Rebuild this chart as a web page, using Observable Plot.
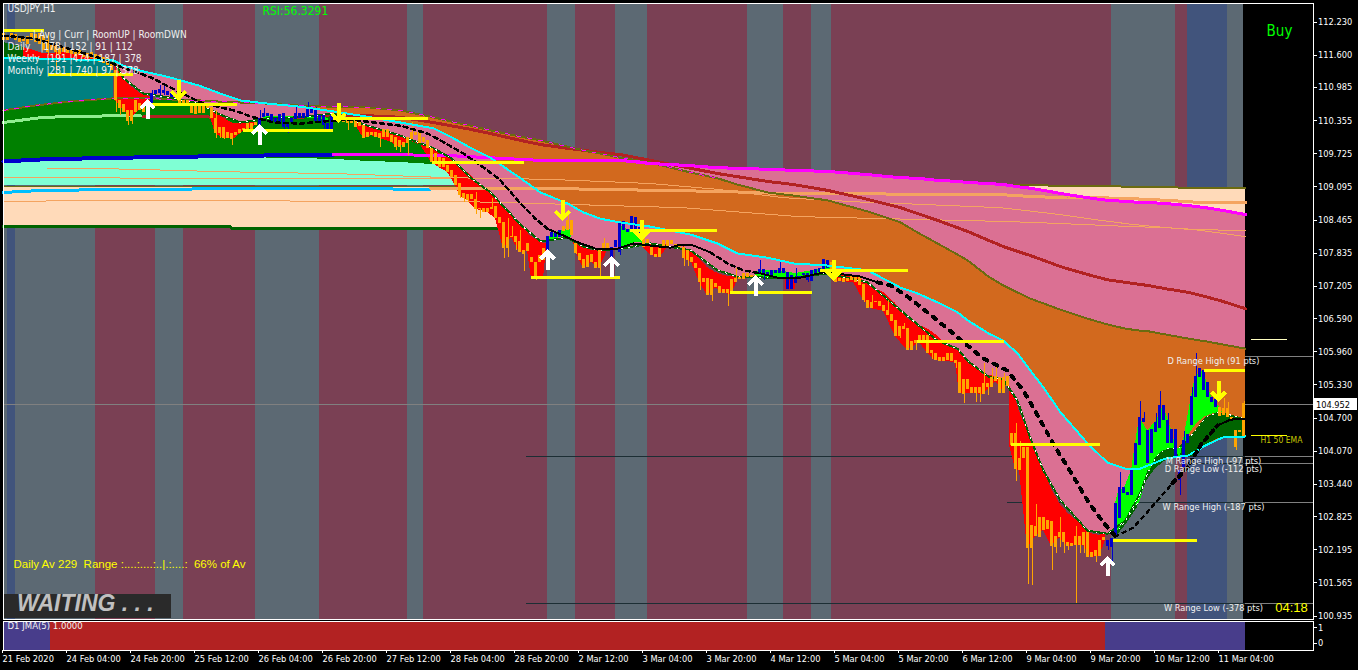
<!DOCTYPE html>
<html><head><meta charset="utf-8">
<script src="https://cdn.jsdelivr.net/npm/d3@7"></script>
<script src="https://cdn.jsdelivr.net/npm/@observablehq/plot@0.6"></script>
<style>html,body{margin:0;padding:0;background:#000;overflow:hidden}#c{position:relative;width:1358px;height:670px}#c svg{position:absolute;left:0;max-width:none}</style>
</head><body><div id="c"></div>
<script>
// ---- axes
const priceTicks=[112.23,111.6,110.985,110.355,109.725,109.095,108.465,107.835,107.205,106.59,105.96,105.33,104.7,104.07,103.44,102.825,102.195,101.565,100.935];
const timeTickBars=[0,16,32,48,64,80,96,112,128,144,160,176,192,208,224,240,256,272,288,304];
const timeTickLabels=["21 Feb 2020","24 Feb 04:00","24 Feb 20:00","25 Feb 12:00","26 Feb 04:00","26 Feb 20:00","27 Feb 12:00","28 Feb 04:00","28 Feb 20:00","2 Mar 12:00","3 Mar 04:00","3 Mar 20:00","4 Mar 12:00","5 Mar 04:00","5 Mar 20:00","6 Mar 12:00","9 Mar 04:00","9 Mar 20:00","10 Mar 12:00","11 Mar 04:00"];
// ---- session shading
const sessionEdges=[0,1,3,23,38,45,63,79,101,105,136,143,153,161,186,195,202,207,277,293,296,306,310];
const sessionKinds=["s","b","s","m","s","m","s","m","s","m","s","m","s","m","s","m","s","m","s","m","b","s"];
const sessionColors={s:"#5c6973",b:"#41547c",m:"#7a4054"};
// ---- cloud curves on a shared set of bars
const cloudBars=[0,7.5,16.75,27.5,30,35,41,49,53.5,59.25,66,74.25,82.5,91,99.25,107.5,111.75,116.75,121.75,129.25,134.25,141,145,149.25,154.25,161.75,171.75,178.5,183.5,191,197.5,206,216,224.25,228.5,233.5,238.5,241,246.25,250,253.5,256.75,260,264.25,271,276,280.5,284.25,286.25,290.5,296.25,300.5,304.75,310.5];
const cyanBand=[111.54,111.54,111.52,111.50,111.40,111.29,111.19,111.02,110.89,110.74,110.68,110.62,110.53,110.43,110.32,110.21,110.05,109.84,109.65,109.26,108.99,108.78,108.61,108.49,108.42,108.34,108.19,108.02,107.83,107.75,107.64,107.60,107.51,107.18,107.07,106.90,106.71,106.56,106.31,106.17,105.93,105.60,105.28,104.81,104.22,103.85,103.74,103.74,103.80,103.93,103.99,104.18,104.33,104.35];
const lowerBand=[null,null,null,111.50,111.16,110.87,110.80,110.68,110.49,110.32,110.40,110.42,110.49,110.26,110.07,109.83,109.65,109.27,108.99,108.38,108.06,108.13,107.96,107.89,107.92,108.02,107.89,107.51,107.39,107.37,107.37,107.45,107.28,106.75,106.48,106.17,106.02,105.79,105.49,105.43,105.03,104.31,103.70,103.13,102.56,102.50,102.75,103.28,103.70,null,null,null,null,null];
const oliveBand=[110.55,110.64,110.72,110.78,110.78,110.78,110.76,110.74,110.72,110.70,110.68,110.64,110.62,110.61,110.55,110.42,110.34,110.26,110.17,110.05,109.98,109.86,109.79,109.73,109.65,109.56,109.37,109.26,109.14,108.99,108.93,108.84,108.63,108.42,108.23,108.02,107.81,107.70,107.39,107.22,107.09,106.97,106.88,106.76,106.59,106.48,106.40,106.36,106.35,106.29,106.21,106.16,106.10,106.02];
const magentaBand=[null,null,null,null,null,null,null,null,null,null,null,null,109.71,109.71,109.71,109.69,109.69,109.67,109.65,109.62,109.60,109.60,109.60,109.60,109.60,109.54,109.50,109.46,109.45,109.43,109.41,109.39,109.33,109.27,109.26,109.22,109.20,109.18,109.16,109.14,109.10,109.07,109.03,108.97,108.89,108.84,108.82,108.80,108.80,108.78,108.74,108.70,108.65,108.57];
const brickBand=[null,null,null,null,null,110.43,110.43,110.43,110.42,110.42,110.42,110.42,110.47,110.45,110.42,110.32,110.26,110.19,110.11,109.98,109.90,109.83,109.79,109.75,109.71,109.60,109.45,109.35,109.29,109.20,109.14,109.03,108.86,108.70,108.59,108.46,108.32,108.25,108.08,107.96,107.87,107.79,107.70,107.58,107.43,107.33,107.28,107.24,107.22,107.16,107.09,107.01,106.92,106.78];
// ---- slow black average
const blackBars=[0,7.5,16,24.25,28.5,36.75,44.25,49.25,57.5,62.5,67.5,74.25,80,86.75,92.5,99.25,106,109.25,115,119,124,129,133,136,140,144.25,148.5,153.5,157.5,161.75,166.75,169.25,172.5,176.75,181,185,189.25,193.5,199.25,205,210,214.25,218.5,221.75,226,231,236,240,245,251,255,259,263,267,271,275,278,282.5,286.75,292.25,296,299.25,303.5,306.75,310.5];
const blackPrice=[111.97,111.92,111.73,111.54,111.40,111.18,110.89,110.70,110.55,110.42,110.32,110.30,110.34,110.38,110.32,110.26,110.11,109.98,109.73,109.52,109.24,108.80,108.49,108.30,108.17,108.02,107.91,107.92,108.02,107.98,107.94,108.00,107.98,107.85,107.64,107.51,107.45,107.37,107.37,107.47,107.43,107.39,107.28,107.22,107.01,106.71,106.40,106.14,105.83,105.60,105.22,104.69,104.14,103.65,103.13,102.71,102.45,102.62,102.98,103.46,103.76,104.18,104.56,104.67,104.69];
// ---- long-period stack on the left
const aquaBars=[0,10,28.5,62.5,82.5,91,99.25,107.5,111.75,116.75];
const aquaTop=[109.54,109.58,109.62,109.65,109.62,109.58,109.56,109.52,109.48,109.41];
const aquaBottom=109.12;
const greenFloor=109.37;
const blueLineBars=[0,10,28.5,62.5,82.5];
const blueLinePrice=[109.58,109.62,109.65,109.69,109.71];
const peachBars=[[0,56.75,57.25,125],[160,249,262.5,282.5,303.5,310.5]];
const peachTop=[[109.10,109.10,109.10,109.10],[109.14,109.14,109.12,109.10,109.07,109.07]];
const peachBottom=[[108.34,108.34,108.30,108.30],[108.55,108.55,108.55,108.55,108.55,108.55]];
const skyBars=[0,10,36.75,73.5,106.75];
const skyPrice=[108.99,109.03,109.05,109.07,109.05];
const paleGreenBars=[0,10,28.5,34.25];
const paleGreenPrice=[110.32,110.42,110.45,110.45];
const sandThinA=[[11,20,32.5,52.5,64.25,82.5,111.75,136,149.25,161.75,178.5,195,216,224.25,249.25,257.5,266,274.25,282.5,291,299.25,310.5],[109.45,109.45,109.43,109.39,109.37,109.35,109.27,109.24,109.20,109.16,109.05,108.89,108.80,108.78,108.70,108.63,108.55,108.46,108.38,108.32,108.27,108.15]];
const sandThinB=[[0,111.75],[109.27,109.25]];
const sandThinC=[[0,28.5,96.75,111.75,124.25,170,199,249.25,257.5,270,282.5,291,299.25,310.5],[108.82,108.84,108.82,108.82,108.80,108.70,108.53,108.44,108.42,108.38,108.34,108.32,108.28,108.27]];
const sandThick=[[106.75,133,179,195,249.25,257.5,266,274.25,282.5,291,299.25,310.5],[109.07,109.07,109.01,108.97,108.95,108.91,108.89,108.89,108.87,108.84,108.80,108.80]];
// ---- red fills between band and price
const redBars=[[5,10,15,20,25,27.5],[28,30,32,34.25,36.75],[51.75,53,55,57.5,60,63],[87.5,90,92,94,97,99,102,104,107,109,111,113,114,116,118,121,123,125,127,129,131,132,135,135.75],[142.5,144,145,147,149,151,152],[160,162,164,166],[170,172,174,176,178,180,182,183.5],[195.5,198],[207.5,212.5,215,217,220,223,226,229,231,233,236,238,239,242,245,248,250.5],[251.5,253,254,256,258,260,262,264,266,268,270,272,274,275.5],[306.5,308,309,310,310.5]];
const redUpper=[[111.75,111.63,111.65,111.59,111.50,111.50],[111.40,111.16,111.00,110.87,110.80],[110.59,110.51,110.40,110.30,110.30,110.32],[110.40,110.30,110.21,110.17,110.11,110.07,109.96,109.90,109.83,109.73,109.67,109.58,109.50,109.37,109.22,109.03,108.89,108.70,108.55,108.44,108.23,108.15,108.02,108.02],[108.06,107.98,107.94,107.89,107.89,107.89,107.91],[108.02,108.02,108.00,108.00],[107.96,107.85,107.73,107.56,107.47,107.41,107.39,107.37],[107.37,107.37],[107.43,107.41,107.32,107.18,107.09,106.88,106.59,106.46,106.40,106.29,106.08,106.02,105.95,105.72,105.53,105.49,105.43],[105.32,105.07,104.82,104.46,104.05,103.70,103.36,103.08,102.90,102.77,102.66,102.50,102.47,102.50],[104.75,104.71,104.71,104.69,104.69]];
const redLower=[[111.54,111.54,111.52,111.52,111.50,111.50],[110.74,110.55,110.40,110.59,110.68],[110.40,110.11,110.02,110.00,110.15,110.26],[110.34,110.02,110.07,110.02,109.94,109.84,110.00,109.92,109.56,109.46,109.37,109.12,108.93,108.84,108.67,108.61,108.49,107.92,108.13,107.85,107.87,107.35,107.35,107.92],[108.02,107.70,107.54,107.66,107.54,107.89,107.91],[107.94,107.79,107.75,107.94],[107.73,107.66,107.28,107.03,107.18,107.07,107.05,107.32],[107.14,107.14],[107.30,107.28,106.94,106.78,106.73,106.25,105.98,106.14,105.93,105.79,105.78,105.74,105.17,105.17,105.15,105.39,105.17],[104.18,103.72,103.70,102.22,102.45,102.56,102.26,102.43,102.26,102.28,102.28,102.05,102.07,102.37],[104.41,104.30,104.40,104.33,104.33]];
// ---- lime fills
const limeBars=[[65,72,78,81.25],[136,138,140,142],[154,156,158,160.5],[188,193,198,203,206.75],[277.5,278,279,280,282,283,284,286,288,290,292,294,295,297,298,300,302,304,304.75]];
const limeUpper=[[110.43,110.43,110.43,110.40],[108.13,108.23,108.27,108.30],[108.36,108.29,108.29,108.11],[107.49,107.51,107.45,107.51,107.60],[102.43,103.08,103.38,103.32,103.70,104.22,104.71,104.46,104.62,104.94,104.48,103.89,104.27,105.11,105.49,105.60,105.09,104.90,104.81]];
const limeLower=[[110.40,110.40,110.40,110.36],[108.04,108.11,108.15,108.13],[107.91,107.98,108.04,108.02],[107.39,107.37,107.37,107.39,107.45],[102.43,102.50,102.60,102.68,102.92,103.04,103.08,103.57,103.95,104.08,104.12,104.12,104.16,104.46,104.56,104.71,104.77,104.81,104.81]];
// ---- dark green fills
const forestBars=[[0,5],[278,280.5,283.5,285.5,288,290.5,293.75,298,300.5,303.75,307.25,310.5]];
const forestUpper=[[111.84,111.75],[102.50,102.75,103.08,103.57,103.95,104.12,104.12,104.46,104.71,104.81,104.75,104.69]];
const forestLower=[[111.54,111.54],[102.43,102.66,103.00,103.47,103.74,103.89,103.95,103.97,104.18,104.31,104.35,104.35]];
// ---- candles, one entry per hourly bar
const bodyUpper=[112.01,111.97,112.01,111.99,111.96,111.94,111.96,112.01,111.99,112.01,
111.97,111.88,111.78,111.78,111.73,111.75,111.73,111.69,111.67,111.69,
111.65,111.63,111.65,111.61,111.59,111.56,111.54,111.46,
111.31,110.74,110.66,110.55,110.55,110.74,110.68,110.64,110.74,
110.87,110.93,110.95,110.93,110.91,110.89,110.85,
110.78,110.74,110.74,110.64,110.62,110.68,110.64,110.64,110.60,110.40,110.23,110.23,110.13,110.11,110.13,110.19,110.21,110.30,110.30,110.32,
110.40,110.49,110.49,110.47,110.40,110.47,110.49,110.32,110.40,110.49,110.49,110.49,110.59,110.59,110.59,110.45,110.45,110.30,110.45,110.43,
110.40,110.38,110.36,110.36,110.36,110.32,110.26,110.13,110.13,110.13,110.11,110.19,110.19,110.07,110.03,109.98,109.94,110.03,110.13,110.13,110.13,110.03,109.98,
109.83,109.73,109.65,109.64,109.50,109.41,109.31,109.16,108.97,108.95,108.95,108.86,108.68,108.68,108.68,108.70,108.72,108.51,108.42,108.13,108.15,108.15,108.06,107.89,108.02,107.75,107.66,107.79,107.92,
108.15,108.23,108.23,108.27,
108.34,108.46,108.46,108.02,107.83,107.71,107.79,107.81,107.66,107.91,108.02,108.02,
107.94,108.08,108.42,108.44,108.29,108.53,108.51,108.32,
108.11,108.10,107.94,107.81,107.92,108.08,108.08,108.08,108.00,107.98,107.94,107.89,107.75,107.64,107.54,107.35,107.35,107.33,107.26,107.20,107.14,107.14,107.33,107.35,107.37,107.45,107.45,107.41,107.41,
107.52,107.52,107.47,107.51,107.51,107.54,107.54,107.47,107.41,107.35,107.39,107.45,107.45,107.51,107.52,107.54,107.71,107.70,
107.66,107.41,107.35,107.35,107.35,107.39,107.39,107.37,
107.24,106.94,106.90,106.92,106.92,106.84,106.75,106.67,106.56,106.44,106.44,106.40,106.16,106.17,106.27,106.27,106.27,105.98,105.93,105.85,105.85,105.93,105.93,105.79,105.76,105.43,105.43,105.28,105.28,105.28,105.36,105.36,105.47,105.49,105.47,105.47,105.49,
104.41,104.41,103.93,104.14,104.14,102.66,102.64,102.81,102.81,102.75,102.73,102.45,102.52,102.52,102.33,102.31,102.45,102.45,102.52,102.52,102.14,102.18,102.37,102.43,
102.37,102.41,103.08,103.38,103.38,103.28,103.70,104.22,104.71,104.69,104.46,104.48,104.62,104.94,104.94,104.65,104.48,104.48,103.70,104.27,104.39,105.11,105.49,105.64,105.60,105.38,105.09,105.05,
104.90,104.88,104.88,104.71,104.46,104.46,104.98];
const bodyLower=[111.88,111.88,111.92,111.88,111.84,111.86,111.80,111.88,111.84,111.80,
111.69,111.65,111.69,111.65,111.61,111.65,111.63,111.61,111.57,111.59,
111.56,111.54,111.54,111.50,111.46,111.44,111.40,111.31,
110.74,110.59,110.51,110.34,110.34,110.51,110.55,110.51,110.62,
110.64,110.85,110.87,110.87,110.83,110.80,110.78,
110.68,110.64,110.64,110.49,110.47,110.49,110.49,110.59,110.40,110.11,110.11,110.02,110.02,110.00,110.07,110.11,110.17,110.19,110.19,110.26,
110.26,110.42,110.43,110.32,110.32,110.32,110.23,110.23,110.32,110.38,110.40,110.40,110.42,110.49,110.34,110.34,110.26,110.19,110.19,110.36,
110.34,110.32,110.30,110.30,110.23,110.24,110.02,110.03,110.07,110.03,110.02,110.03,110.03,109.94,109.84,109.84,109.84,109.92,110.00,110.07,109.92,109.94,109.83,
109.56,109.56,109.46,109.46,109.37,109.27,109.12,108.93,108.87,108.84,108.86,108.67,108.67,108.61,108.61,108.67,108.49,108.40,107.92,107.92,108.13,108.04,107.85,107.81,107.87,107.66,107.35,107.66,107.70,
107.89,108.13,108.13,108.13,
108.25,108.27,108.17,107.83,107.70,107.54,107.56,107.66,107.54,107.54,107.92,107.89,
107.75,107.94,107.85,108.27,108.23,108.23,108.27,108.13,
107.94,108.02,107.79,107.75,107.75,107.94,107.96,108.00,107.94,107.94,107.73,107.70,107.66,107.54,107.28,107.28,107.03,107.03,107.18,107.07,107.07,107.07,107.05,107.28,107.33,107.33,107.37,107.37,107.33,
107.43,107.43,107.43,107.41,107.45,107.45,107.45,107.14,107.14,107.26,107.33,107.41,107.32,107.30,107.45,107.47,107.52,107.54,
107.51,107.28,107.30,107.28,107.30,107.32,107.28,107.22,
106.94,106.78,106.78,106.90,106.82,106.73,106.65,106.54,106.25,106.25,106.38,105.98,105.98,106.12,106.14,106.16,105.93,105.93,105.79,105.78,105.78,105.79,105.78,105.74,105.17,105.15,105.24,105.17,105.17,105.17,105.15,105.28,105.28,105.39,105.17,105.17,105.30,
104.18,103.72,103.70,103.93,102.22,102.22,102.45,102.43,102.56,102.58,102.26,102.24,102.43,102.33,102.26,102.26,102.28,102.28,102.28,102.05,102.05,102.07,102.07,102.37,
102.26,102.24,102.47,102.79,103.27,103.23,103.23,103.80,104.18,104.62,103.84,104.03,104.43,104.50,104.65,104.22,104.22,103.95,103.51,103.76,104.22,104.56,105.09,105.47,105.22,105.09,105.00,104.90,
104.73,104.75,104.71,104.67,104.14,104.42,104.33];
const blueCandleRuns=[[37,43],[64,83],[136,139],[152,159],[189,206],[276,303]];
const wickBars=[11,13,28,29,31,32,37,39,40,53,54,55,57,64,65,70,71,73,76,78,80,81,86,94,98,99,101,102,114,115,116,118,119,122,125,126,127,128,129,130,133,136,141,143,149,150,154,160,170,171,174,177,181,183,189,190,194,198,201,215,217,221,224,225,228,232,238,240,243,244,245,246,247,248,250,253,254,256,257,258,262,263,264,265,266,268,269,270,273,276,277,279,284,285,288,289,291,294,295,297,298,305,306,308,310];
const wickHigh=[112.03,111.84,111.31,110.74,110.55,110.55,110.93,111.02,111.02,110.55,110.23,110.23,110.11,110.55,110.59,110.49,110.32,110.61,110.70,110.61,110.45,110.30,110.36,110.11,110.03,109.98,110.03,110.32,109.16,108.97,108.95,108.99,108.68,108.87,108.42,108.49,108.34,108.15,108.27,107.89,107.66,108.15,108.61,108.02,107.91,108.11,108.42,108.17,107.94,107.89,107.54,107.33,107.14,107.54,107.70,107.52,107.66,107.54,107.45,107.24,107.03,106.94,106.44,106.50,106.17,105.98,105.79,105.43,105.28,105.28,105.74,105.36,105.64,105.74,105.55,104.60,104.25,104.14,102.66,103.06,102.73,102.45,102.81,102.52,102.33,102.64,102.45,102.52,102.18,102.37,102.41,103.66,105.01,104.81,104.79,105.20,104.79,103.70,104.45,105.28,105.93,105.07,104.99,104.46,105.01];
const wickLow=[111.59,111.31,110.51,110.45,110.26,110.28,110.59,110.81,110.83,110.02,110.02,110.00,109.88,110.17,110.42,110.19,110.11,110.38,110.42,110.34,110.17,110.17,110.17,109.84,109.79,109.75,109.69,110.00,108.87,108.80,108.80,108.57,108.49,108.67,107.73,107.75,108.13,107.89,107.85,107.49,107.32,107.83,108.27,107.81,107.37,107.92,107.79,107.94,107.58,107.58,107.13,106.92,106.82,107.28,107.43,107.32,107.45,107.26,107.28,106.90,106.78,106.65,106.21,106.38,105.98,105.81,105.64,104.98,104.99,104.99,105.15,105.13,105.28,105.39,105.17,103.49,103.70,101.54,101.52,102.45,101.80,102.12,102.24,102.12,102.18,101.17,102.12,102.12,101.95,102.18,101.90,102.79,104.18,104.62,104.43,104.50,104.22,103.23,103.76,104.56,105.09,104.75,104.71,104.08,104.33];
// ---- yellow range levels
const levelStart=[0,11.25,37.25,60,82.5,107.25,132,156.75,181.75,204.25,228.5,252,277.5,300.25];
const levelEnd=[10.25,32.5,58.5,82.5,106.25,130.25,154.25,178.5,202.25,226.25,250.25,274.25,298.5,310.5];
const levelPrice=[112.07,111.23,110.66,110.17,110.40,109.56,107.37,108.27,107.09,107.51,106.16,104.20,102.37,105.60];
// ---- signal arrows
const upBars=[36,64,136,152,188,276];
const upPrice=[110.38,109.90,107.51,107.39,107.03,101.69];
const downBars=[43.75,83.75,139.75,159.5,207.5,303.75];
const downPrice=[111.12,110.70,108.84,108.46,107.71,105.40];
// ---- range lines and labels
const currentPrice=104.952;
const rangeStart=[311,130.75,294.25,251,130.75];
const rangePrice=[105.87,103.97,103.84,103.09,101.17];
const rangeText=["D Range High (91 pts)","M Range High (-97 pts)","D Range Low (-112 pts)","W Range High (-187 pts)","W Range Low (-378 pts)"];
const rangeTextPrice=[105.78,103.89,103.74,103.00,101.08];
// ---- lower window
const jmaEdges=[0,11.75,275.5,310.5];
const jmaColors=["#483d8b","#b22222","#483d8b"];

const cloud=cloudBars.map((bar,i)=>({bar,cyan:cyanBand[i],lower:lowerBand[i],olive:oliveBand[i],mag:magentaBand[i],brick:brickBand[i]}));
const xy=(b,p)=>b.map((bar,i)=>({bar,price:p[i]}));
const runs=(b,u,l)=>b.flatMap((r,k)=>r.map((bar,i)=>({bar,run:k,upper:u[k][i],lower:l[k][i]})));
const sessions=sessionKinds.map((k,i)=>({a:sessionEdges[i],b:sessionEdges[i+1],fill:sessionColors[k]}));
const candles=bodyUpper.map((upper,i)=>({bar:i,upper,lower:bodyLower[i],color:blueCandleRuns.some(r=>i>=r[0]&&i<=r[1])?"#0000cd":"#ffa500"}));
const colorOf=b=>candles[b]?candles[b].color:"#ffa500";
const wicks=wickBars.map((bar,i)=>({bar,hi:wickHigh[i],lo:wickLow[i],color:colorOf(bar)}));
const levels=levelPrice.map((price,i)=>({a:levelStart[i],b:levelEnd[i],price}));
const ranges=rangePrice.map((price,i)=>({a:rangeStart[i],price}));
const aquaRows=aquaBars.map((bar,i)=>({bar,top:aquaTop[i],bottom:aquaBottom}));
const peach=runs(peachBars,peachTop,peachBottom);
const blackRows=xy(blackBars,blackPrice);
const TAHOMA='"DejaVu Sans Condensed","DejaVu Sans",sans-serif';
const AXIS_SIZE=9.2;
const SCALE_END=327.5, FRAME_R=310.5;
const chevron={draw(ctx,l){ctx.moveTo(0,0);ctx.lineTo(0,-l);ctx.moveTo(-7,7-l);ctx.lineTo(0,-l);ctx.lineTo(7,7-l);}};
const sandLine=(s,w)=>Plot.line(xy(s[0],s[1]),{x:"bar",y:"price",stroke:"#f4a460",strokeWidth:w});
const fixedText=(t,dx,dy,o={})=>Plot.text([t],{frameAnchor:"top-left",dx,dy,fill:"#f0f0f0",fontSize:10,...o});
const blackPart=(f,w,dash)=>Plot.line(blackRows,{filter:f,x:"bar",y:"price",stroke:"#000",strokeWidth:w,strokeDasharray:dash});

const main=Plot.plot({
  width:1358,height:626,marginLeft:2.5,marginRight:45.5,marginTop:2.5,marginBottom:7.5,
  x:{domain:[0,SCALE_END],range:[3,1313],axis:null},
  y:{domain:[100.889,112.583],range:[618,3]},
  color:{type:"identity"},
  style:{background:"transparent",fontFamily:TAHOMA,fontSize:"10px",shapeRendering:"crispEdges"},
  marks:[
    Plot.rect(sessions,{x1:"a",x2:"b",fill:"fill"}),
    Plot.ruleY([currentPrice],{x1:0,x2:SCALE_END,stroke:"#808080",strokeWidth:1}),
    Plot.ruleY(ranges,{x1:"a",x2:SCALE_END,y:"price",stroke:"#1c2e34",strokeWidth:1}),
    // long period stack
    Plot.areaY(peach,{x:"bar",y1:"upper",y2:"lower",z:"run",fill:"#ffdab9"}),
    Plot.areaY(cloud,{filter:d=>d.bar<=111.75,x:"bar",y1:"olive",y2:()=>greenFloor,fill:"#008000"}),
    Plot.areaY(aquaRows,{x:"bar",y1:"top",y2:"bottom",fill:"#7fffd4"}),
    Plot.areaY(cloud,{filter:d=>d.bar<=27.5,x:"bar",y1:"cyan",y2:"olive",fill:"#008080"}),
    Plot.line(xy(blueLineBars,blueLinePrice),{x:"bar",y:"price",stroke:"#0000cd",strokeWidth:4}),
    Plot.line(xy(skyBars,skyPrice),{x:"bar",y:"price",stroke:"#00bfff",strokeWidth:3}),
    Plot.line(xy(paleGreenBars,paleGreenPrice),{x:"bar",y:"price",stroke:"#90ee90",strokeWidth:3}),
    Plot.line(peach.filter(d=>d.run==0),{x:"bar",y:"lower",stroke:"#006400",strokeWidth:3}),
    Plot.line(peach.filter(d=>d.run==0),{x:"bar",y:"upper",stroke:"#6b6b10",strokeWidth:1}),
    Plot.line(cloud,{filter:d=>d.brick!=null&&d.bar<=82.5,x:"bar",y:"brick",stroke:"#b22222",strokeWidth:3}),
    // clouds
    Plot.areaY(cloud,{filter:d=>d.bar>=74.25,x:"bar",y1:"olive",y2:"cyan",fill:"#d2691e"}),
    Plot.areaY(cloud,{filter:d=>d.lower!=null,x:"bar",y1:"cyan",y2:"lower",fill:"#db7093"}),
    Plot.areaY(cloud,{filter:d=>d.bar>=161.75,x:"bar",y1:"mag",y2:"olive",fill:"#db7093"}),
    // fills
    Plot.areaY(runs(redBars,redUpper,redLower),{x:"bar",y1:"upper",y2:"lower",z:"run",fill:"#ff0000"}),
    Plot.areaY(runs(forestBars,forestUpper,forestLower),{x:"bar",y1:"upper",y2:"lower",z:"run",fill:"#006400"}),
    Plot.areaY(runs(limeBars,limeUpper,limeLower),{x:"bar",y1:"upper",y2:"lower",z:"run",fill:"#00ff00"}),
    // thin lines over the clouds
    sandLine(sandThinA,1),sandLine(sandThinB,1),sandLine(sandThinC,1),sandLine(sandThick,3),
    Plot.line(peach.filter(d=>d.run==1&&d.bar>=249),{x:"bar",y:"upper",stroke:"#6b6b10",strokeWidth:2}),
    Plot.line(cloud,{filter:d=>d.bar>=82.5,x:"bar",y:"brick",stroke:"#b22222",strokeWidth:3}),
    Plot.line(cloud,{x:"bar",y:"olive",stroke:"#6b6b10",strokeWidth:2}),
    Plot.line(cloud,{filter:d=>d.mag!=null,x:"bar",y:"mag",stroke:"#ff00ff",strokeWidth:3}),
    Plot.line(cloud,{filter:d=>d.bar<=178.5,x:"bar",y:"olive",stroke:"#ff00ff",strokeWidth:1,strokeDasharray:"4 7"}),
    Plot.line(cloud,{filter:d=>d.lower!=null,x:"bar",y:"lower",stroke:"#006400",strokeWidth:2}),
    Plot.line(cloud,{filter:d=>d.lower!=null,x:"bar",y:"lower",stroke:"#ffffff",strokeWidth:1,strokeDasharray:"1 6"}),
    Plot.line(runs(forestBars,forestUpper,forestLower).filter(d=>d.run==1),{x:"bar",y:"upper",stroke:"#ffffff",strokeWidth:1,strokeDasharray:"1 5"}),
    // candles
    Plot.ruleX(wicks,{x:d=>d.bar+0.125,y1:"hi",y2:"lo",stroke:"color",strokeWidth:1}),
    Plot.rect(candles,{x1:d=>d.bar-0.25,x2:d=>d.bar+0.5,y1:"lower",y2:"upper",fill:"color"}),
    Plot.line(cloud,{x:"bar",y:"cyan",stroke:"#00ffff",strokeWidth:2}),
    // black average
    blackPart(d=>d.bar<=136,2.5,"4 4"),
    blackPart(d=>d.bar>=136&&d.bar<=176.75,2,null),
    blackPart(d=>d.bar>=176.75&&d.bar<=189.25,2.5,"4 4"),
    blackPart(d=>d.bar>=189&&d.bar<=218.5,2,null),
    blackPart(d=>d.bar>=218.5&&d.bar<=278,4,"4 7"),
    blackPart(d=>d.bar>=278&&d.bar<=292.25,2.5,"3 5"),
    blackPart(d=>d.bar>=292.25&&d.bar<=303.5,4,"4 5"),
    blackPart(d=>d.bar>=303.5,2,null),
    // levels and arrows
    Plot.ruleY(levels,{x1:"a",x2:"b",y:"price",stroke:"#ffff00",strokeWidth:3}),
    Plot.vector(xy(upBars,upPrice),{x:"bar",y:"price",length:18,rotate:0,anchor:"start",shape:chevron,stroke:"#fff",strokeWidth:4,strokeLinecap:"butt",strokeLinejoin:"miter"}),
    Plot.vector(xy(downBars,downPrice),{x:"bar",y:"price",length:18,rotate:180,anchor:"start",shape:chevron,stroke:"#ffff00",strokeWidth:4,strokeLinecap:"butt",strokeLinejoin:"miter"}),
    // right side
    Plot.ruleY(ranges,{x1:FRAME_R,x2:SCALE_END,y:"price",stroke:"#808080",strokeWidth:1}),
    Plot.ruleY([106.19],{x1:312,x2:321,stroke:"#ffffc0",strokeWidth:1}),
    Plot.ruleY([104.37],{x1:312,x2:321,stroke:"#ffff00",strokeWidth:1}),
    Plot.text(rangeText,{x:()=>302.5,y:(d,i)=>rangeTextPrice[i],fill:"#f0f0f0",fontSize:9.2,textAnchor:"middle"}),
    Plot.text(["H1 50 EMA"],{x:()=>319.5,y:()=>104.27,fill:"#c8c800",fontSize:8.5}),
    Plot.text(["04:18"],{x:()=>322,y:()=>101.09,fill:"#ffff00",fontSize:13,fontFamily:"Liberation Sans"}),
    Plot.text(["Buy"],{x:()=>319,y:()=>112.05,fill:"#00ff00",fontSize:15,fontFamily:TAHOMA}),
    // status text
    fixedText("USDJPY,H1",4.5,1.5),
    fixedText("RSI:56.3291",259.5,3,{fill:"#00ff00",fontSize:12}),
    fixedText("| Avg | Curr | RoomUP | RoomDWN",30,27.5),
    fixedText("Daily",4.5,39.5),fixedText("|178 | 152 | 91 | 112",37.5,39.5),
    fixedText("Weekly",4.5,51.5),fixedText("|191 |474 | 187 | 378",43.5,51.5),
    fixedText("Monthly",4.5,63.5),fixedText("|281 | 740 | 97 | 378",43.5,63.5),
    fixedText("Daily Av 229\u00a0 Range :....:....:..|.:....:\u00a0 66% of Av",10.5,557,{fill:"#ffff00",fontSize:11.5,fontFamily:"Liberation Sans"}),
    Plot.rect([0],{x1:()=>0,x2:()=>42,y1:()=>100.89,y2:()=>101.35,fill:"#2a2a2a"}),
    fixedText("WAITING . . .",14,591.5,{fill:"#c0c0c0",fontSize:23,fontWeight:"bold",fontStyle:"italic",fontFamily:"Liberation Sans"}),
    // price axis
    Plot.axisY(priceTicks,{anchor:"right",tickSize:3,tickPadding:2,tickFormat:d=>d.toFixed(3),stroke:"#fff",fill:"#fff",label:null,fontSize:AXIS_SIZE}),
    Plot.rect([0],{x1:()=>327.75,x2:()=>338.5,y1:()=>104.84,y2:()=>105.07,fill:"#fff"}),
    Plot.text([currentPrice],{x:()=>328.1,y:d=>d,text:d=>d.toFixed(3),fill:"#000",textAnchor:"start",fontSize:AXIS_SIZE}),
    Plot.frame({stroke:"#fff",strokeWidth:1})
  ]
});
main.style.top="0px";
const sub=Plot.plot({
  width:1358,height:51,marginLeft:2.5,marginRight:45.5,marginTop:1.5,marginBottom:20.5,
  x:{domain:[0,SCALE_END],range:[3,1313]},
  y:{domain:[-0.44,1.45]},
  color:{type:"identity"},
  style:{background:"transparent",fontFamily:TAHOMA,fontSize:"10px",shapeRendering:"crispEdges"},
  marks:[
    Plot.rect(jmaColors,{x1:(d,i)=>jmaEdges[i],x2:(d,i)=>jmaEdges[i+1],fill:d=>d}),
    fixedText("D1 JMA(5) 1.0000",4.5,1.5,{fontSize:9.5}),
    Plot.axisY([0,1],{anchor:"right",tickSize:3,tickPadding:2,stroke:"#fff",fill:"#fff",label:null,tickFormat:d=>String(d),fontSize:AXIS_SIZE}),
    Plot.axisX(timeTickBars,{anchor:"bottom",tickSize:3,tickPadding:2,stroke:"#fff",fill:"#fff",label:null,textAnchor:"start",dx:-1,tickFormat:d=>timeTickLabels[timeTickBars.indexOf(d)],fontSize:AXIS_SIZE}),
    Plot.frame({stroke:"#fff",strokeWidth:1})
  ]
});
sub.style.top="619px";
document.getElementById("c").append(main,sub);
</script>
</body></html>
